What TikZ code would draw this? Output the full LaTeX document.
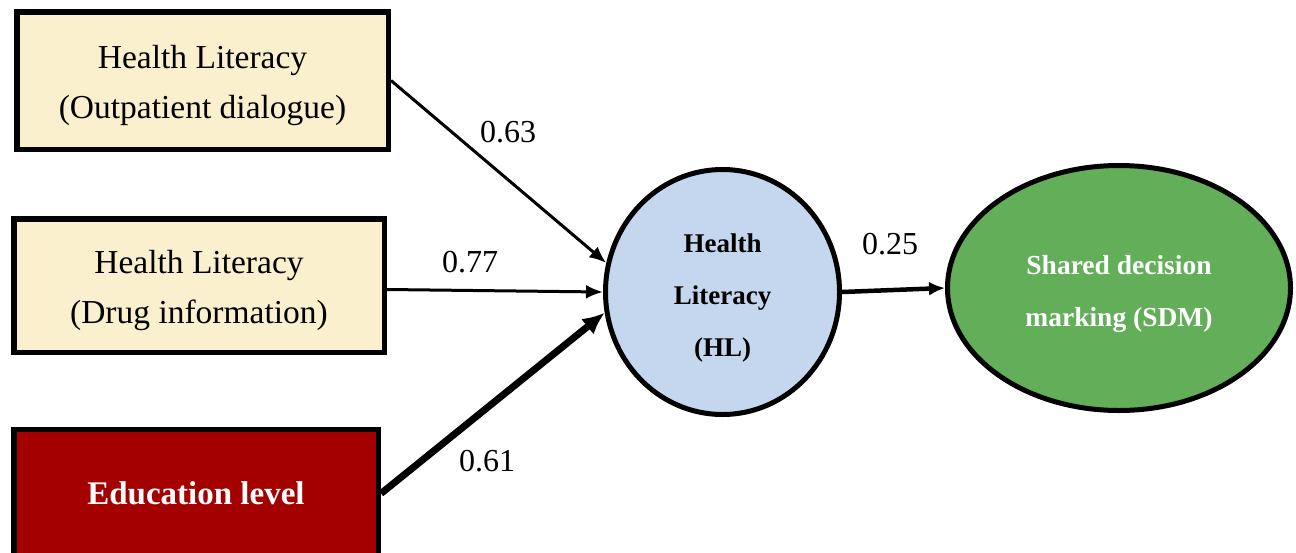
\documentclass[tikz,border=0pt]{standalone}
\usepackage{fontspec}
\setmainfont{Liberation Serif}
\usetikzlibrary{arrows.meta,shapes.geometric}
\definecolor{cream}{RGB}{250,240,205}
\definecolor{darkred}{RGB}{165,0,0}
\definecolor{hlblue}{RGB}{197,215,238}
\definecolor{sdmgreen}{RGB}{99,174,88}
\tikzset{%
  >={Latex[length=17pt,width=14pt]}, % default arrow style
  hlbox/.style={draw, line width=5.5pt, fill=cream, align=center, inner sep=0pt,%
    text height=83pt, font=\fontsize{33.5}{50}\selectfont},%
  edbox/.style={draw, line width=5.5pt, fill=darkred, text=white, inner sep=0pt,%
    font=\fontsize{33}{50}\selectfont\bfseries},%
  latent/.style={draw, ellipse, line width=5pt, inner sep=0pt, align=center},%
  effect/.style={->, line width=3pt},%
  weight/.style={inner sep=0pt, font=\fontsize{32}{38}\selectfont}%
}

\begin{document}
\begin{tikzpicture}[x=1pt,y=-1pt]
  \useasboundingbox (0,0) rectangle (1296,552);
  % observed variables
  \node[hlbox, minimum width=371.5pt, minimum height=137.5pt] (HLO) at (202.5,80.5)
    {Health Literacy\\(Outpatient dialogue)};
  \node[hlbox, minimum width=370.5pt, minimum height=133.5pt] (HLD) at (199,285.5)
    {Health Literacy\\(Drug information)};
  \node[edbox, minimum width=364.5pt, minimum height=128pt] (EDU) at (196,493.5)
    {Education level};
  % latent variables
  \node[latent, fill=hlblue, minimum width=234pt, minimum height=245pt, text height=134.5pt,
    font=\fontsize{27}{52}\selectfont\bfseries] (HL) at (722.5,292)
    {Health\\Literacy\\(HL)};
  \node[latent, fill=sdmgreen, text=white, minimum width=343pt, minimum height=245pt,
    text height=83pt, font=\fontsize{27.5}{52}\selectfont\bfseries] (SDM) at (1119,288)
    {Shared decision\\marking (SDM)};
  % paths
  \draw[effect] (HLO.east) -- (HL.166);
  \draw[effect] ([yshift=-4pt]HLD.east) -- (HL.west);
  \draw[->, line width=7pt, >={Latex[length=22pt,width=20pt]}] (EDU.east) -- (HL.190);
  \draw[->, line width=4.5pt, >={Latex[length=16pt,width=14pt]}] (HL.east) -- (SDM.west);
  % weights
  \node[weight] (W1) at (508,132) {0.63};
  \node[weight] (W2) at (470,262) {0.77};
  \node[weight] (W3) at (487,461) {0.61};
  \node[weight] (W4) at (890,244) {0.25};
\end{tikzpicture}
\end{document}
